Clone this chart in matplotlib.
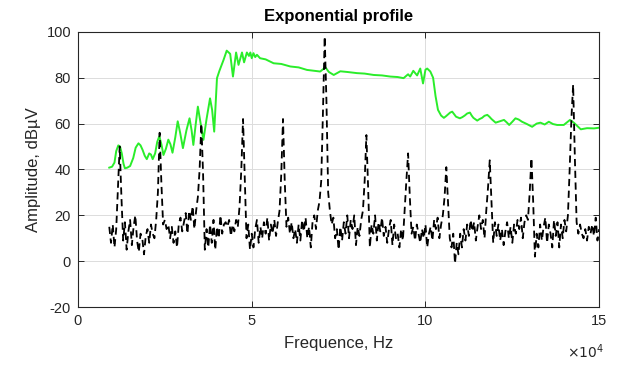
import numpy as np
import matplotlib.pyplot as plt

plt.rcParams["font.family"] = ["Liberation Sans", "DejaVu Sans"]
plt.rcParams["axes.unicode_minus"] = False

# green trace: frequency (x1e4 Hz) and amplitude (dBuV)
green_freq = [0.90, 0.98, 1.05, 1.10, 1.16, 1.21, 1.26, 1.31, 1.35, 1.42,
              1.50, 1.59, 1.66, 1.74, 1.80, 1.86, 1.92, 1.98, 2.05, 2.10,
              2.15, 2.22, 2.28, 2.34, 2.40, 2.46, 2.53, 2.60, 2.66, 2.72,
              2.80, 2.87, 2.94, 3.02, 3.12, 3.21, 3.27, 3.32, 3.39, 3.45,
              3.53, 3.61, 3.70, 3.80, 3.86, 3.92, 3.96, 4.00, 4.07, 4.19,
              4.28, 4.38, 4.46, 4.55, 4.62, 4.72, 4.78, 4.86, 4.92, 4.96,
              5.00, 5.05, 5.10, 5.15, 5.24, 5.40, 5.63, 5.85, 6.11, 6.35,
              6.59, 6.80, 6.97, 7.12, 7.22, 7.36, 7.55, 7.75, 8.03, 8.25,
              8.51, 8.75, 8.99, 9.20, 9.37, 9.50, 9.56, 9.65, 9.76, 9.85,
              9.93, 10.00, 10.05, 10.14, 10.22, 10.29, 10.36, 10.45, 10.53, 10.59,
              10.65, 10.71, 10.77, 10.83, 10.88, 10.99, 11.06, 11.13, 11.20, 11.28,
              11.33, 11.38, 11.49, 11.56, 11.63, 11.70, 11.78, 11.84, 11.90, 12.02,
              12.14, 12.26, 12.34, 12.41, 12.50, 12.59, 12.68, 12.78, 12.92, 13.07,
              13.20, 13.31, 13.43, 13.55, 13.67, 13.79, 13.98, 14.16, 14.27, 14.47,
              14.65, 14.85, 15.00]
green_amp = [40.8, 41.2, 43.0, 48.0, 50.5, 50.0, 47.0, 42.5, 40.5, 40.8,
             41.5, 45.0, 49.5, 51.4, 50.5, 48.5, 46.0, 44.5, 47.0, 46.5,
             44.5, 47.0, 52.0, 54.5, 51.0, 46.3, 49.0, 53.0, 51.0, 47.3,
             54.0, 61.0, 56.0, 49.3, 57.0, 62.3, 57.0, 50.7, 60.0, 67.4,
             60.0, 52.9, 62.0, 71.0, 66.0, 56.5, 68.0, 79.8, 83.0, 87.8,
             91.8, 90.4, 80.5, 91.0, 85.6, 91.0, 86.7, 91.0, 89.5, 91.0,
             88.5, 90.7, 89.0, 90.0, 88.5, 88.0, 86.3, 86.0, 84.9, 84.5,
             83.4, 83.0, 82.7, 84.5, 82.5, 81.2, 82.8, 82.5, 82.0, 81.8,
             81.2, 81.0, 80.5, 80.3, 79.8, 81.5, 80.5, 83.0, 81.0, 84.0,
             77.5, 83.5, 84.0, 82.7, 80.0, 72.0, 66.0, 63.5, 62.5, 63.2,
             64.0, 64.8, 65.2, 64.0, 63.0, 62.3, 62.8, 63.5, 64.4, 64.8,
             63.5, 62.5, 61.3, 62.0, 62.5, 63.4, 63.8, 63.0, 62.0, 60.4,
             61.0, 61.6, 60.5, 59.4, 60.8, 62.3, 61.8, 60.8, 59.8, 58.6,
             60.0, 60.4, 59.6, 60.8, 59.8, 59.4, 59.4, 61.6, 60.4, 57.5,
             58.0, 57.9, 58.2]

# black dashed trace, sampled every 0.05 (x1e4 Hz) from 0.90 to 15.00
black_freq = np.round(np.arange(0.90, 15.001, 0.05), 2)
black_amp = [
    15, 8, 16, 6, 14, 32, 50, 28, 9, 17, 5, 13, 18, 7, 15, 20, 9, 4, 12, 10,
    3, 11, 14, 8, 16, 12, 10, 18, 30, 56, 34, 16, 18, 14, 16, 10, 15, 8, 13, 6,
    16, 19, 13, 17, 21, 12, 22, 18, 24, 14, 22, 28, 40, 60, 38, 5, 14, 6, 16, 8,
    18, 5, 15, 10, 20, 12, 16, 17, 15, 18, 11, 16, 13, 18, 15, 24, 40, 62, 36, 10,
    16, 5, 12, 6, 14, 18, 8, 15, 10, 17, 12, 19, 9, 16, 12, 18, 11, 17, 22, 38,
    62, 35, 15, 19, 12, 17, 10, 14, 8, 16, 9, 18, 13, 19, 10, 15, 6, 17, 20, 14,
    22, 26, 35, 65, 98, 70, 30, 22, 16, 19, 10, 14, 5, 15, 9, 17, 12, 20, 10, 18,
    14, 20, 7, 15, 11, 18, 22, 35, 55, 32, 6, 16, 12, 20, 9, 17, 13, 19, 11, 15,
    8, 14, 18, 7, 16, 10, 12, 6, 14, 9, 22, 35, 47, 28, 12, 15, 9, 16, 12, 8,
    14, 10, 16, 6, 12, 15, 9, 18, 14, 19, 10, 16, 20, 28, 41, 25, 10, 6, 12, -1,
    8, 3, 12, 6, 14, 9, 16, 11, 18, 13, 17, 9, 15, 20, 14, 18, 10, 22, 32, 44,
    26, 8, 17, 11, 16, 9, 14, 7, 13, 17, 10, 15, 8, 16, 12, 18, 14, 19, 10, 17,
    20, 18, 30, 45, 26, 2, 12, 6, 16, 9, 15, 19, 8, 16, 12, 6, 18, 11, 17, 6,
    16, 10, 18, 13, 20, 40, 62, 77, 45, 17, 12, 16, 12, 10, 14, 9, 15, 12, 16, 11,
    19, 9, 14,
]

x_ticks = [0, 5, 10, 15]
y_ticks = [-20, 0, 20, 40, 60, 80, 100]

ink = "#262626"

fig = plt.figure(figsize=(6.19, 3.66), dpi=100)
ax = fig.add_axes([0.126, 0.161, 0.842, 0.752])

ax.plot(green_freq, green_amp, color="#2aed2a", lw=1.4, solid_joinstyle="round")
ax.plot(black_freq, black_amp, color="black", lw=1.3, ls="--", dashes=(4, 2.5))

ax.set_xlim(0, 15)
ax.set_ylim(-20, 100)
ax.set_xticks(x_ticks)
ax.set_yticks(y_ticks)
ax.grid(True, color="#dcdcdc", lw=0.7)
ax.set_axisbelow(True)
ax.tick_params(direction="in", length=4, width=0.7, top=True, right=True,
               labelsize=10.5, colors=ink, pad=5)
for s in ax.spines.values():
    s.set_color(ink)
    s.set_linewidth(0.8)

ax.set_title("Exponential profile", fontsize=12, fontweight="bold", color="black", pad=8)
ax.set_xlabel("Frequence, Hz", fontsize=12, color=ink, labelpad=6)
ax.set_ylabel("Amplitude, dBµV", fontsize=12, color=ink, labelpad=4)
fig.text(0.946, 0.04, r"$\times10^{4}$", fontsize=10, color=ink, ha="center", va="center")

fig.savefig("out.png", dpi=100)
